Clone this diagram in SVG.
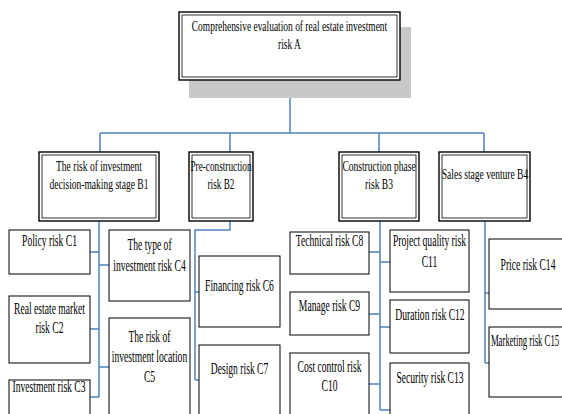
<svg xmlns="http://www.w3.org/2000/svg" width="562" height="414" viewBox="0 0 562 414">
<style>
.bg{fill:#ffffff}
.shadow{fill:#c8c8c8}
.outer{fill:#ffffff;stroke:#000;stroke-width:1.4}
.inner{fill:none;stroke:#000;stroke-width:0.8}
.cbox{fill:#ffffff;stroke:#000;stroke-width:1}
.conn{fill:none;stroke:#4f81bd;stroke-width:1.5}
text{font-family:"Liberation Serif","Times New Roman",serif;fill:#000;text-anchor:middle}
.tb{font-size:14px}
.tc{font-size:16px}
</style>
<rect class="bg" x="0" y="0" width="562" height="414"/>
<g id="connectors">
<path class="conn" d="M290 80V133M100 133H484M100 133V152M230 133V152M379 133V152M484 133V152"/>
<path class="conn" d="M99 221V397M90 252H99M99 265H109M90 329H99M99 367H109M90 397H99"/>
<path class="conn" d="M230 221V230H195V380M195 292H199M195 380H199"/>
<path class="conn" d="M380 221V410M369 252H380M380 262H390M369 314H380M380 327H390M369 384H380M380 410H390"/>
<path class="conn" d="M485 221V363M485 293H489M485 363H489"/>
</g>
<g id="A">
<rect class="shadow" x="189" y="27" width="222" height="71"/>
<rect class="outer" x="179" y="12" width="221" height="68"/>
<rect class="inner" x="182" y="15" width="215" height="62"/>
<text class="tb" transform="translate(289.5 31) scale(0.675 1)"><tspan x="0" y="0">Comprehensive evaluation of real estate investment</tspan><tspan x="0" y="18.5">risk A</tspan></text>
</g>
<g id="B1">
<rect class="outer" x="39" y="152" width="120" height="69"/>
<rect class="inner" x="42" y="155" width="114" height="63"/>
<text class="tb" transform="translate(99 171) scale(0.68 1)"><tspan x="0" y="0">The risk of investment</tspan><tspan x="0" y="18">decision-making stage B1</tspan></text>
</g>
<g id="B2">
<rect class="outer" x="189" y="152" width="64" height="69"/>
<rect class="inner" x="192" y="155" width="58" height="63"/>
<text class="tb" transform="translate(221 171) scale(0.66 1)"><tspan x="0" y="0">Pre-construction</tspan><tspan x="0" y="18">risk B2</tspan></text>
</g>
<g id="B3">
<rect class="outer" x="339" y="152" width="80" height="69"/>
<rect class="inner" x="342" y="155" width="74" height="63"/>
<text class="tb" transform="translate(379 171) scale(0.68 1)"><tspan x="0" y="0">Construction phase</tspan><tspan x="0" y="18">risk B3</tspan></text>
</g>
<g id="B4">
<rect class="outer" x="439" y="152" width="91" height="69"/>
<rect class="inner" x="442" y="155" width="85" height="63"/>
<text class="tb" transform="translate(485 179) scale(0.68 1)">Sales stage venture B4</text>
</g>
<g id="C1">
<rect class="cbox" x="9" y="230" width="81" height="44"/>
<text class="tc" transform="translate(49.5 246) scale(0.6 1)">Policy risk C1</text>
</g>
<g id="C2">
<rect class="cbox" x="9" y="296" width="81" height="67"/>
<text class="tc" transform="translate(49.5 314) scale(0.6 1)"><tspan x="0" y="0">Real estate market</tspan><tspan x="0" y="19">risk C2</tspan></text>
</g>
<g id="C3">
<rect class="cbox" x="9" y="380" width="81" height="50"/>
<text class="tc" transform="translate(49 392) scale(0.6 1)">Investment risk C3</text>
</g>
<g id="C4">
<rect class="cbox" x="109" y="230" width="81" height="71"/>
<text class="tc" transform="translate(149.5 250) scale(0.6 1)"><tspan x="0" y="0">The type of</tspan><tspan x="0" y="21.5">investment risk C4</tspan></text>
</g>
<g id="C5">
<rect class="cbox" x="109" y="318" width="81" height="110"/>
<text class="tc" transform="translate(149.5 342) scale(0.6 1)"><tspan x="0" y="0">The risk of</tspan><tspan x="0" y="20">investment location</tspan><tspan x="0" y="40">C5</tspan></text>
</g>
<g id="C6">
<rect class="cbox" x="199" y="256" width="81" height="71"/>
<text class="tc" transform="translate(239.5 291) scale(0.6 1)">Financing risk C6</text>
</g>
<g id="C7">
<rect class="cbox" x="199" y="345" width="81" height="80"/>
<text class="tc" transform="translate(239.5 374) scale(0.6 1)">Design risk C7</text>
</g>
<g id="C8">
<rect class="cbox" x="290" y="232" width="79" height="42"/>
<text class="tc" transform="translate(329.5 246) scale(0.6 1)">Technical risk C8</text>
</g>
<g id="C9">
<rect class="cbox" x="290" y="292" width="79" height="43"/>
<text class="tc" transform="translate(329.5 311) scale(0.6 1)">Manage risk C9</text>
</g>
<g id="C10">
<rect class="cbox" x="290" y="353" width="79" height="80"/>
<text class="tc" transform="translate(329.5 372) scale(0.6 1)"><tspan x="0" y="0">Cost control risk</tspan><tspan x="0" y="19">C10</tspan></text>
</g>
<g id="C11">
<rect class="cbox" x="390" y="230" width="79" height="62"/>
<text class="tc" transform="translate(429.5 246) scale(0.6 1)"><tspan x="0" y="0">Project quality risk</tspan><tspan x="0" y="21">C11</tspan></text>
</g>
<g id="C12">
<rect class="cbox" x="390" y="300" width="79" height="53"/>
<text class="tc" transform="translate(430 320) scale(0.6 1)">Duration risk C12</text>
</g>
<g id="C13">
<rect class="cbox" x="390" y="363" width="79" height="70"/>
<text class="tc" transform="translate(430 383) scale(0.6 1)">Security risk C13</text>
</g>
<g id="C14">
<rect class="cbox" x="489" y="239" width="79" height="70"/>
<text class="tc" transform="translate(528 270) scale(0.6 1)">Price risk C14</text>
</g>
<g id="C15">
<rect class="cbox" x="489" y="327" width="79" height="70"/>
<text class="tc" transform="translate(525 346) scale(0.545 1)">Marketing risk C15</text>
</g>
</svg>
